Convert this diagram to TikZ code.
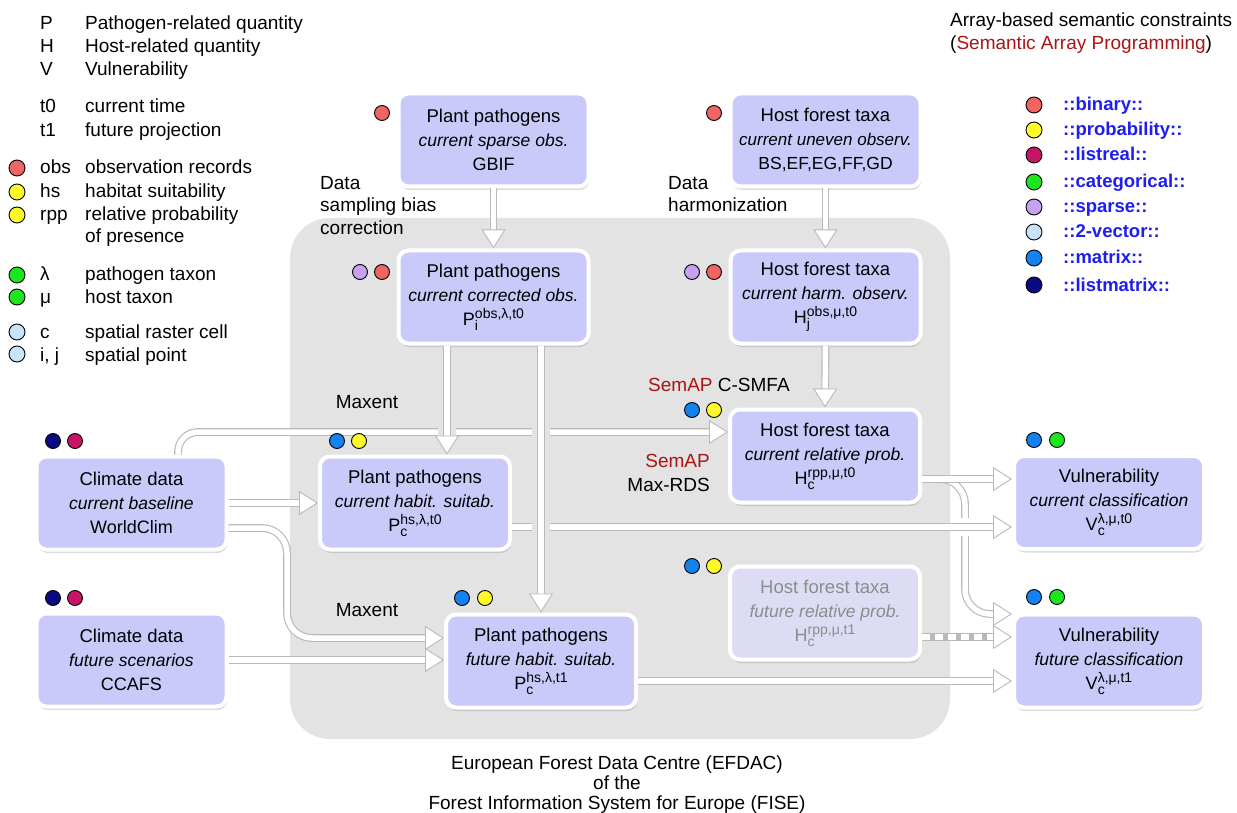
\documentclass[tikz,border=0pt]{standalone}
\usepackage{fontspec}
\setmainfont{Liberation Sans}
\usetikzlibrary{arrows.meta,shadows}

\definecolor{boxfill}{RGB}{202,202,250}
\definecolor{fadefill}{RGB}{220,220,244}
\definecolor{fadetext}{RGB}{140,140,140}
\definecolor{regionfill}{RGB}{227,227,227}
\definecolor{edgegray}{RGB}{185,185,185}
\definecolor{semred}{RGB}{170,20,20}
\definecolor{typeblue}{RGB}{30,30,240}
\definecolor{cbinary}{RGB}{240,100,100}
\definecolor{cprob}{RGB}{255,250,40}
\definecolor{clistreal}{RGB}{200,20,100}
\definecolor{ccat}{RGB}{30,230,30}
\definecolor{csparse}{RGB}{200,160,240}
\definecolor{cvec}{RGB}{200,228,250}
\definecolor{cmatrix}{RGB}{20,130,240}
\definecolor{clistmatrix}{RGB}{10,10,130}

\newcommand{\fs}[1]{\fontsize{#1}{24}\selectfont}
\newcommand{\pq}[3]{#1\rlap{\raisebox{-5pt}{\fs{14}#2}}\raisebox{7pt}{\fs{14}#3}}

\tikzset{
  box/.style={draw=white, line width=4pt, fill=boxfill, rounded corners=10pt,
    minimum width=190pt, minimum height=93pt, align=center, inner sep=2pt,
    font=\fontsize{18.5}{24}\selectfont,
    drop shadow={shadow xshift=1pt, shadow yshift=-3.5pt, opacity=0.28}},
  fadebox/.style={box, fill=fadefill, text=fadetext},
  dot/.style={circle, draw=black, line width=0.9pt, minimum size=15pt, inner sep=0pt},
  ldot/.style={dot, minimum size=16pt},
  lg/.style={font=\fontsize{19}{23}\selectfont, inner sep=0pt},
  tl/.style={font=\fontsize{18.5}{23}\selectfont\bfseries, text=typeblue, inner sep=0pt},
  conn/.style={draw=white, line width=5.5pt,
    -{Triangle[width=24pt,length=19pt,fill=white,color=edgegray,line width=0.9pt]},
    preaction={draw=edgegray, line width=7.8pt, arrows=-, solid, shorten >=16pt}},
  bridge/.style={preaction={draw=regionfill, line width=18pt, arrows=-, shorten <=8pt, shorten >=12pt}},
  whitebridge/.style={preaction={draw=white, line width=18pt, arrows=-, shorten <=440pt, shorten >=40pt}},
}

\begin{document}
\begin{tikzpicture}[x=1pt, y=-1pt]
\useasboundingbox (0,0) rectangle (1237,813);

% background region
\fill[regionfill, rounded corners=40pt] (290,218) rectangle (950,739);

% ---------- left legend ----------
\node[lg, anchor=base west] (sP) at (40,30) {P};
\node[lg, anchor=base west] (dP) at (85,30) {Pathogen-related quantity};
\node[lg, anchor=base west] (sH) at (40,53) {H};
\node[lg, anchor=base west] (dH) at (85,53) {Host-related quantity};
\node[lg, anchor=base west] (sV) at (40,76) {V};
\node[lg, anchor=base west] (dV) at (85,76) {Vulnerability};
\node[lg, anchor=base west] (st0) at (40,113) {t0};
\node[lg, anchor=base west] (dt0) at (85,113) {current time};
\node[lg, anchor=base west] (st1) at (40,137) {t1};
\node[lg, anchor=base west] (dt1) at (85,137) {future projection};
\node[ldot, fill=cbinary] (kobs) at (17,168) {};
\node[lg, anchor=base west] (sobs) at (40,174) {obs};
\node[lg, anchor=base west] (dobs) at (85,174) {observation records};
\node[ldot, fill=cprob] (khs) at (17,192) {};
\node[lg, anchor=base west] (shs) at (40,198) {hs};
\node[lg, anchor=base west] (dhs) at (85,198) {habitat suitability};
\node[ldot, fill=cprob] (krpp) at (17,215) {};
\node[lg, anchor=base west] (srpp) at (40,221) {rpp};
\node[lg, anchor=base west] (drpp) at (85,221) {relative probability};
\node[lg, anchor=base west] (drpp2) at (85,243) {of presence};
\node[ldot, fill=ccat] (klam) at (17,275) {};
\node[lg, anchor=base west] (slam) at (40,280) {λ};
\node[lg, anchor=base west] (dlam) at (85,280) {pathogen taxon};
\node[ldot, fill=ccat] (kmu) at (17,297) {};
\node[lg, anchor=base west] (smu) at (40,303) {μ};
\node[lg, anchor=base west] (dmu) at (85,303) {host taxon};
\node[ldot, fill=cvec] (kc) at (17,332) {};
\node[lg, anchor=base west] (sc) at (40,338) {c};
\node[lg, anchor=base west] (dc) at (85,338) {spatial raster cell};
\node[ldot, fill=cvec] (kij) at (17,354) {};
\node[lg, anchor=base west] (sij) at (40,361) {i, j};
\node[lg, anchor=base west] (dij) at (85,361) {spatial point};

% ---------- right legend ----------
\node[lg, anchor=base west] (rt1) at (950,27) {Array-based semantic constraints};
\node[lg, anchor=base west] (rt2) at (950,50) {(\textcolor{semred}{Semantic Array Programming})};
\node[ldot, fill=cbinary] (r1) at (1034,105) {};
\node[tl, anchor=base west] (t1) at (1063,111) {::binary::};
\node[ldot, fill=cprob] (r2) at (1034,130) {};
\node[tl, anchor=base west] (t2) at (1063,136) {::probability::};
\node[ldot, fill=clistreal] (r3) at (1034,155) {};
\node[tl, anchor=base west] (t3) at (1063,161) {::listreal::};
\node[ldot, fill=ccat] (r4) at (1034,182) {};
\node[tl, anchor=base west] (t4) at (1063,188) {::categorical::};
\node[ldot, fill=csparse] (r5) at (1034,207) {};
\node[tl, anchor=base west] (t5) at (1063,213) {::sparse::};
\node[ldot, fill=cvec] (r6) at (1034,232) {};
\node[tl, anchor=base west] (t6) at (1063,238) {::2-vector::};
\node[ldot, fill=cmatrix] (r7) at (1034,258) {};
\node[tl, anchor=base west] (t7) at (1063,264) {::matrix::};
\node[ldot, fill=clistmatrix] (r8) at (1034,285) {};
\node[tl, anchor=base west] (t8) at (1063,291) {::listmatrix::};

% ---------- boxes ----------
\node[box] (A) at (493.5,140) {{\fs{18.5}Plant pathogens}\\{\fs{17.5}\itshape current sparse obs.}\\{\fs{18}GBIF}};
\node[box] (B) at (493.5,297) {{\fs{18.5}Plant pathogens}\\{\fs{17.5}\itshape current corrected obs.}\\{\fs{18}\pq{P}{i}{obs,λ,t0}}};
\node[box] (C) at (825.5,140) {{\fs{18.5}Host forest taxa}\\{\fs{17}\itshape current uneven observ.}\\{\fs{17.5}BS,EF,EG,FF,GD}};
\node[box] (D) at (825.5,297) {{\fs{18.5}Host forest taxa}\\{\fs{17.5}\itshape current harm. observ.}\\{\fs{18}\pq{H}{j}{obs,μ,t0}}};
\node[box] (E) at (825,456) {{\fs{18.5}Host forest taxa}\\{\fs{17.5}\itshape current relative prob.}\\{\fs{18}\pq{H}{c}{rpp,μ,t0}}};
\node[fadebox] (F) at (825,613) {{\fs{18.5}Host forest taxa}\\{\fs{17.5}\itshape future relative prob.}\\{\fs{18}\pq{H}{c}{rpp,μ,t1}}};
\node[box] (G) at (415,503) {{\fs{18.5}Plant pathogens}\\{\fs{17.5}\itshape current habit. suitab.}\\{\fs{18}\pq{P}{c}{hs,λ,t0}}};
\node[box] (CC) at (131.5,503) {{\fs{18.5}Climate data}\\{\fs{17.5}\itshape current baseline}\\{\fs{18}WorldClim}};
\node[box] (CF) at (131.5,660) {{\fs{18.5}Climate data}\\{\fs{17.5}\itshape future scenarios}\\{\fs{18}CCAFS}};
\node[box] (PF) at (541,661) {{\fs{18.5}Plant pathogens}\\{\fs{17.5}\itshape future habit. suitab.}\\{\fs{18}\pq{P}{c}{hs,λ,t1}}};
\node[box] (VC) at (1109,502.5) {{\fs{18.5}Vulnerability}\\{\fs{17.5}\itshape current classification}\\{\fs{18}\pq{V}{c}{λ,μ,t0}}};
\node[box] (VF) at (1109,661) {{\fs{18.5}Vulnerability}\\{\fs{17.5}\itshape future classification}\\{\fs{18}\pq{V}{c}{λ,μ,t1}}};

% ---------- labels ----------
\node[lg, anchor=base west] (ls1) at (320,190) {Data};
\node[lg, anchor=base west] (ls2) at (320,212) {sampling bias};
\node[lg, anchor=base west] (ls3) at (320,235) {correction};
\node[lg, anchor=base west] (lh1) at (668,190) {Data};
\node[lg, anchor=base west] (lh2) at (668,212) {harmonization};
\node[lg, anchor=base] (mx1) at (367,408) {Maxent};
\node[lg, anchor=base] (mx2) at (367,616) {Maxent};
\node[lg, anchor=base west] (smfa) at (648,391) {\textcolor{semred}{SemAP} C-SMFA};
\node[lg, anchor=base east] (rds1) at (710,467) {\textcolor{semred}{SemAP}};
\node[lg, anchor=base east] (rds2) at (710,491) {Max-RDS};
\node[lg, anchor=base] (bt1) at (617,769) {European Forest Data Centre (EFDAC)};
\node[lg, anchor=base] (bt2) at (617,789) {of the};
\node[lg, anchor=base] (bt3) at (617,809) {Forest Information System for Europe (FISE)};

% ---------- connector anchors ----------
\coordinate (b4) at ([xshift=-46.5pt]B.south);
\coordinate (b5) at ([xshift=47.5pt]B.south);
\coordinate (c6) at ([xshift=46.5pt]CC.north);
\coordinate (e6) at ([yshift=24pt]E.west);
\coordinate (c8) at ([yshift=-25pt]CC.east);
\coordinate (p8) at ([yshift=23pt]PF.west);
\coordinate (k8) at (287,0);
\coordinate (g10) at ([yshift=-24pt]G.east);
\coordinate (e11) at ([yshift=-23pt]E.east);
\coordinate (v12) at ([yshift=47pt]VF.west);
\coordinate (k12) at (965,0);
\coordinate (f13) at ([yshift=-24pt]F.east);
\coordinate (p14) at ([yshift=-20pt]PF.east);

% ---------- connectors ----------
\draw[conn, rounded corners=20pt] (c6) |- (e6);
\draw[conn, rounded corners=25pt] (c8) -| (k8 |- p8) -- (p8);
\draw[conn, rounded corners=25pt] (e11) -| (k12 |- v12) -- (v12);
\draw[whitebridge, conn] (g10) -- (g10 -| VC.west);
\draw[conn] (e11) -- (e11 -| VC.west);
\draw[bridge, conn] (b4) -- (b4 |- G.north);
\draw[bridge, conn] (b5) -- (b5 |- PF.north);
\draw[conn] (A.south) -- (B.north);
\draw[conn] (C.south) -- (D.north);
\draw[conn] (D.south) -- (E.north);
\draw[conn] (CC.east) -- (G.west);
\draw[conn] (CF.east) -- (CF.east -| PF.west);
\draw[conn, dash pattern=on 8pt off 5pt] (f13) -- (f13 -| VF.west);
\draw[conn] (p14) -- (p14 -| VF.west);

% ---------- type dots ----------
\node[dot, fill=cbinary] (dA1) at (382,113) {};
\node[dot, fill=csparse] (dB1) at (360,272) {};
\node[dot, fill=cbinary] (dB2) at (382,272) {};
\node[dot, fill=cbinary] (dC1) at (714,113) {};
\node[dot, fill=csparse] (dD1) at (692,272) {};
\node[dot, fill=cbinary] (dD2) at (714,272) {};
\node[dot, fill=cmatrix] (dE1) at (692,410) {};
\node[dot, fill=cprob] (dE2) at (714,410) {};
\node[dot, fill=cmatrix] (dF1) at (692,566) {};
\node[dot, fill=cprob] (dF2) at (714,566) {};
\node[dot, fill=cmatrix] (dG1) at (337,441) {};
\node[dot, fill=cprob] (dG2) at (359,441) {};
\node[dot, fill=clistmatrix] (dCC1) at (53,441) {};
\node[dot, fill=clistreal] (dCC2) at (75,441) {};
\node[dot, fill=clistmatrix] (dCF1) at (53,598) {};
\node[dot, fill=clistreal] (dCF2) at (75,598) {};
\node[dot, fill=cmatrix] (dPF1) at (462,598) {};
\node[dot, fill=cprob] (dPF2) at (485,598) {};
\node[dot, fill=cmatrix] (dVC1) at (1034,440) {};
\node[dot, fill=ccat] (dVC2) at (1057,440) {};
\node[dot, fill=cmatrix] (dVF1) at (1034,597) {};
\node[dot, fill=ccat] (dVF2) at (1057,597) {};
\end{tikzpicture}
\end{document}
